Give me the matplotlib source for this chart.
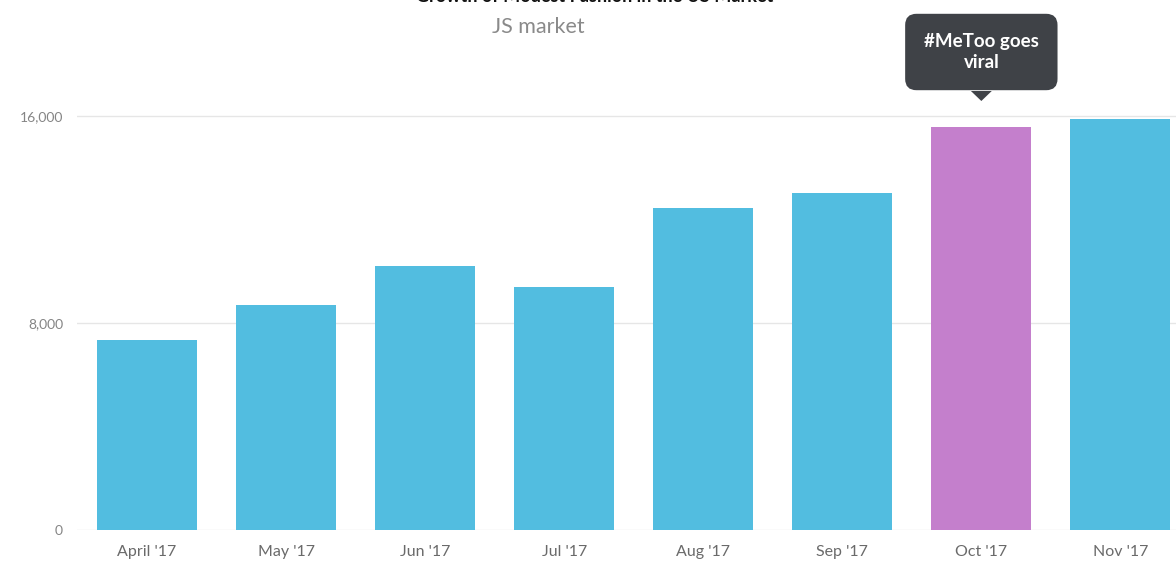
"""Growth of modest fashion in the US market, monthly bar chart."""

import matplotlib
matplotlib.use("Agg")
import matplotlib.pyplot as plt
from matplotlib.patches import Polygon

months = ["April '17", "May '17", "Jun '17", "Jul '17",
          "Aug '17", "Sep '17", "Oct '17", "Nov '17"]
values = [7350, 8700, 10200, 9400, 12450, 13020, 15580, 15880]
yticks = [0, 8000, 16000]
highlight = "Oct '17"
callout = "#MeToo goes\nviral"

plt.rcParams["font.family"] = ["Lato", "DejaVu Sans"]

fig = plt.figure(figsize=(11.76, 5.70), dpi=100)
ax = fig.add_axes([77 / 1176, 40 / 570, 1 - 77 / 1176, (530 - 40) / 570])

x = list(range(len(months)))
colors = ["#c47fcc" if m == highlight else "#52bde0" for m in months]
ax.bar(x, values, width=0.72, color=colors, zorder=2)

# 530px -> 0, 116px -> 16000
px_per_unit = (530 - 116) / 16000
ymax = (530 - 40) / px_per_unit
ax.set_ylim(0, ymax)
ax.set_xlim(-0.504, 7.40)

ax.set_yticks(yticks)
ax.set_yticklabels([f"{v:,}" for v in yticks])
ax.set_xticks(x)
ax.set_xticklabels(months)
ax.tick_params(axis="y", length=0, pad=10, labelsize=10, labelcolor="#858585")
ax.tick_params(axis="x", length=0, pad=11, labelsize=11.5, labelcolor="#6a6a6a")
ax.grid(axis="y", color="#e6e6e6", linewidth=1, zorder=0)
for s in ax.spines.values():
    s.set_visible(False)

# callout bubble above the highlighted bar
hi = months.index(highlight)
def py(p):
    return (530 - p) / px_per_unit

ax.text(hi, py(52), callout, ha="center", va="center", color="white",
        fontsize=13.5, fontweight="bold", linespacing=1.35, zorder=5,
        bbox=dict(boxstyle="round,pad=1.0,rounding_size=0.6",
                  fc="#3f4247", ec="none"),
        clip_on=False)
tri = Polygon([(hi - 0.075, py(91)), (hi + 0.075, py(91)), (hi, py(101))],
              closed=True, fc="#3f4247", ec="none", clip_on=False, zorder=5)
ax.add_patch(tri)

fig.text(0.506, 1.006, "Growth of Modest Fashion in the US Market",
         ha="center", va="center", fontsize=13, fontweight="bold", color="#111111")
fig.text(0.458, 0.952, "JS market", ha="center", va="center",
         fontsize=15.5, color="#8a8a8a")

fig.savefig("out.png", dpi=100)
